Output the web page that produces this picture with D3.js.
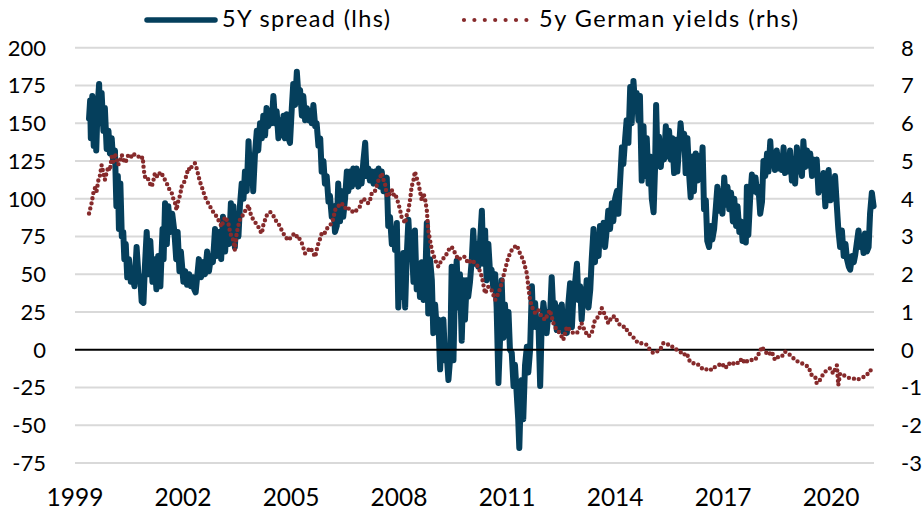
<!DOCTYPE html>
<html><head><meta charset="utf-8">
<script src="https://cdn.jsdelivr.net/npm/d3@7"></script>
<style>
html,body{margin:0;padding:0;background:#fff;}
svg{display:block;font-family:Lato,"Open Sans",sans-serif;}
</style></head>
<body><svg id="c" width="922" height="513"></svg>
<script>
// ---- data ----
const spreadLabel = "5Y spread (lhs)";
const yieldLabel = "5y German yields (rhs)";
const leftTicks = [-75,-50,-25,0,25,50,75,100,125,150,175,200];
const rightTicks = [-3,-2,-1,0,1,2,3,4,5,6,7,8];
const yearTicks = [1999,2002,2005,2008,2011,2014,2017,2020];
// [decimal year, spread bp]
const spreadSeries = [[1999.39,153],[1999.42,165],[1999.44,140],[1999.48,168],[1999.52,135],[1999.56,160],[1999.59,132],[1999.63,162],[1999.67,176],[1999.70,150],[1999.74,170],[1999.79,145],[1999.83,160],[1999.88,133],[1999.93,145],[1999.97,130],[2000.02,140],[2000.06,125],[2000.11,132],[2000.15,95],[2000.19,115],[2000.22,80],[2000.26,110],[2000.30,75],[2000.34,78],[2000.37,60],[2000.41,70],[2000.45,48],[2000.50,60],[2000.55,45],[2000.59,50],[2000.65,42],[2000.71,68],[2000.76,50],[2000.81,48],[2000.85,32],[2000.90,31],[2000.94,55],[2000.99,78],[2001.04,50],[2001.09,72],[2001.15,45],[2001.20,60],[2001.26,40],[2001.31,62],[2001.37,42],[2001.43,80],[2001.46,60],[2001.50,97],[2001.55,70],[2001.59,95],[2001.65,78],[2001.70,90],[2001.76,78],[2001.81,60],[2001.85,78],[2001.90,52],[2001.94,65],[2002.01,45],[2002.06,52],[2002.11,43],[2002.17,50],[2002.22,42],[2002.28,48],[2002.31,40],[2002.35,38],[2002.40,50],[2002.44,60],[2002.50,48],[2002.56,58],[2002.61,50],[2002.67,65],[2002.72,52],[2002.78,62],[2002.83,58],[2002.89,80],[2002.94,62],[2003.00,78],[2003.06,60],[2003.11,88],[2003.17,65],[2003.22,85],[2003.28,70],[2003.33,97],
[2003.35,72],[2003.40,95],[2003.44,68],[2003.49,90],[2003.54,75],[2003.58,95],[2003.63,110],[2003.68,100],[2003.72,118],[2003.77,105],[2003.82,138],[2003.86,115],[2003.91,125],[2003.95,105],[2004.00,130],[2004.05,145],[2004.09,132],[2004.14,150],[2004.19,140],[2004.23,155],[2004.28,142],[2004.32,160],[2004.37,148],[2004.42,158],[2004.46,150],[2004.51,168],[2004.56,150],[2004.60,158],[2004.65,140],[2004.69,152],[2004.74,142],[2004.79,155],[2004.83,140],[2004.88,156],[2004.93,140],[2004.97,137],[2005.02,160],[2005.06,176],[2005.11,162],[2005.16,184],[2005.20,170],[2005.25,172],[2005.30,155],[2005.34,168],[2005.39,152],[2005.44,160],[2005.48,152],[2005.53,158],[2005.57,150],[2005.62,162],[2005.67,148],[2005.71,150],[2005.76,135],[2005.81,140],[2005.85,118],[2005.90,125],[2005.94,110],[2005.99,115],[2006.04,98],[2006.08,102],[2006.13,88],[2006.18,95],[2006.22,78],[2006.27,82],[2006.31,110],[2006.36,85],[2006.41,105],[2006.45,88],[2006.50,100],[2006.55,118],[2006.59,105],[2006.64,118],[2006.69,108],[2006.73,120],[2006.78,110],[2006.82,120],[2006.87,108],[2006.92,118],[2006.96,110],[2007.01,125],[2007.06,137],[2007.10,115],[2007.15,120],[2007.19,112],[2007.24,118],[2007.29,110],[2007.33,118],[2007.38,112],[2007.43,120],[2007.47,108],[2007.52,118],[2007.57,105],[2007.61,108],
[2007.66,114],[2007.70,82],[2007.75,88],[2007.80,70],[2007.84,80],[2007.89,66],[2007.94,84],[2007.98,28],[2008.03,60],[2008.07,35],[2008.12,64],[2008.17,28],[2008.21,60],[2008.26,86],[2008.31,62],[2008.35,72],[2008.40,45],[2008.44,79],[2008.49,40],[2008.54,55],[2008.58,35],[2008.63,58],[2008.68,33],[2008.72,40],[2008.77,84],[2008.81,24],[2008.86,60],[2008.91,46],[2008.95,11],[2009.00,30],[2009.05,12],[2009.09,20],[2009.14,-13],[2009.18,10],[2009.23,20],[2009.28,-7],[2009.32,-2],[2009.37,-20],[2009.42,-5],[2009.46,55],[2009.51,-7],[2009.55,40],[2009.60,59],[2009.65,28],[2009.69,50],[2009.74,6],[2009.79,46],[2009.83,20],[2009.88,46],[2009.92,35],[2009.97,45],[2010.02,60],[2010.06,79],[2010.11,57],[2010.16,70],[2010.20,55],[2010.25,72],[2010.30,92],[2010.34,57],[2010.39,79],[2010.43,46],[2010.48,70],[2010.53,50],[2010.57,53],[2010.62,40],[2010.67,50],[2010.71,28],[2010.76,-22],[2010.81,10],[2010.85,46],[2010.90,8],[2010.94,30],[2010.99,15],[2011.04,25],[2011.08,0],[2011.13,-2],[2011.18,-24],[2011.22,-10],[2011.27,-30],[2011.31,-46],[2011.34,-65],[2011.37,-40],[2011.41,-20],[2011.45,-46],[2011.50,-10],[2011.55,2],[2011.59,-15],[2011.64,0],[2011.69,42],[2011.73,15],[2011.78,31],[2011.82,15],[2011.87,20],[2011.92,-24],[2011.96,15],[2012.01,31],[2012.06,20],
[2012.10,11],[2012.15,25],[2012.19,20],[2012.24,48],[2012.29,22],[2012.33,31],[2012.38,13],[2012.43,28],[2012.47,15],[2012.52,30],[2012.56,12],[2012.61,25],[2012.66,11],[2012.70,30],[2012.75,44],[2012.80,15],[2012.84,35],[2012.89,45],[2012.94,57],[2012.98,33],[2013.03,42],[2013.07,20],[2013.12,38],[2013.17,30],[2013.21,46],[2013.26,28],[2013.31,40],[2013.35,60],[2013.40,80],[2013.44,58],[2013.49,75],[2013.54,62],[2013.58,82],[2013.63,70],[2013.68,84],[2013.72,68],[2013.77,80],[2013.81,92],[2013.86,80],[2013.91,97],[2013.95,85],[2014.00,100],[2014.05,105],[2014.09,90],[2014.14,112],
[2014.19,134],[2014.23,123],[2014.28,140],[2014.32,152],[2014.37,137],[2014.42,174],[2014.46,150],[2014.51,178],[2014.56,160],[2014.60,170],[2014.65,152],[2014.69,168],[2014.74,112],[2014.79,148],[2014.83,115],[2014.88,140],[2014.93,110],[2014.97,128],[2015.02,100],[2015.07,91],[2015.11,120],[2015.14,162],[2015.18,125],[2015.22,141],[2015.27,121],[2015.31,135],[2015.36,126],[2015.41,148],[2015.45,128],[2015.50,145],[2015.55,126],[2015.59,140],[2015.64,117],[2015.69,139],[2015.73,118],[2015.78,135],[2015.82,150],[2015.87,134],[2015.92,143],[2015.96,117],[2016.01,140],[2016.06,115],[2016.10,101],[2016.15,128],[2016.19,105],[2016.24,130],[2016.29,112],[2016.33,128],[2016.38,115],[2016.43,134],[2016.47,93],
[2016.52,99],[2016.56,72],[2016.61,68],[2016.66,82],[2016.70,73],[2016.75,80],[2016.80,95],[2016.84,108],[2016.89,92],[2016.93,105],[2016.98,90],[2017.03,114],[2017.08,96],[2017.12,108],[2017.17,93],[2017.22,104],[2017.27,85],[2017.31,100],[2017.36,82],[2017.40,95],[2017.45,78],[2017.50,85],[2017.54,72],[2017.59,80],[2017.63,71],
[2017.66,108],[2017.70,76],[2017.75,100],[2017.80,116],[2017.85,105],[2017.90,114],[2017.94,104],[2017.98,108],[2018.03,90],[2018.08,98],[2018.12,125],[2018.17,115],[2018.22,130],[2018.26,118],[2018.31,138],[2018.35,122],[2018.40,130],[2018.44,119],[2018.49,132],[2018.54,120],[2018.58,128],[2018.63,119],[2018.68,134],[2018.72,117],[2018.77,128],[2018.82,118],[2018.86,132],[2018.91,112],[2018.95,124],[2019.00,110],[2019.05,134],[2019.09,118],[2019.14,128],[2019.19,115],[2019.23,138],[2019.28,121],[2019.33,132],[2019.37,122],[2019.42,130],[2019.47,115],[2019.51,126],[2019.56,118],[2019.60,126],[2019.65,104],[2019.70,115],[2019.74,106],[2019.79,117],[2019.84,95],[2019.88,110],[2019.93,119],[2019.98,99],[2020.02,112],[2020.06,100],[2020.11,115],[2020.16,95],[2020.20,80],[2020.25,68],[2020.30,79],[2020.35,62],[2020.40,70],[2020.44,60],[2020.49,55],[2020.53,53],[2020.58,62],[2020.63,58],[2020.67,63],[2020.71,70],[2020.76,79],[2020.81,68],[2020.85,75],[2020.90,64],[2020.94,77],[2020.99,65],[2021.04,68],[2021.08,90],[2021.13,104],[2021.18,95]];
// [decimal year, yield %]
const yieldSeries = [[1999.39,3.61],[1999.46,3.88],[1999.51,4.15],[1999.56,4.3],[1999.60,4.2],[1999.65,4.49],[1999.69,4.6],[1999.74,4.89],[1999.79,4.68],[1999.83,4.5],[1999.88,4.7],[1999.93,4.85],[1999.97,4.75],[2000.02,5.11],[2000.06,4.98],[2000.11,5.2],[2000.16,5.05],[2000.20,4.9],[2000.25,5.0],[2000.30,5.16],[2000.34,5.05],[2000.39,4.95],[2000.44,5.05],[2000.48,5.16],[2000.55,5.1],[2000.62,5.2],[2000.69,5.12],[2000.76,5.12],[2000.82,5.05],[2000.88,5.1],[2000.91,4.76],[2000.94,4.58],[2000.99,4.6],[2001.04,4.5],[2001.08,4.4],[2001.13,4.32],[2001.18,4.5],[2001.22,4.68],[2001.27,4.6],[2001.31,4.58],[2001.36,4.7],[2001.41,4.68],[2001.45,4.55],[2001.50,4.5],[2001.55,4.4],[2001.59,4.32],[2001.64,4.2],[2001.69,4.14],[2001.73,4.0],[2001.78,3.88],[2001.82,3.7],[2001.87,3.95],[2001.92,4.1],[2001.96,4.32],[2002.01,4.4],[2002.06,4.5],[2002.10,4.65],[2002.15,4.81],[2002.19,4.75],[2002.24,4.85],[2002.29,4.9],[2002.33,4.94],[2002.38,4.8],[2002.43,4.6],[2002.47,4.45],[2002.52,4.32],[2002.56,4.2],[2002.61,4.05],[2002.66,3.95],[2002.70,3.88],[2002.75,3.8],[2002.80,3.7],[2002.84,3.65],[2002.89,3.61],[2002.94,3.5],[2002.98,3.44],[2003.03,3.35],[2003.07,3.26],[2003.12,3.4],[2003.17,3.52],[2003.21,3.45],[2003.26,3.35],[2003.31,3.1],[2003.35,2.99],[2003.40,2.9],[2003.44,2.64],[2003.49,3.08],[2003.54,3.3],[2003.58,3.44],[2003.63,3.5],[2003.68,3.61],[2003.74,3.7],[2003.82,3.83],[2003.86,3.65],[2003.91,3.52],[2003.95,3.45],[2004.00,3.39],[2004.05,3.3],[2004.09,3.26],[2004.14,3.15],[2004.19,3.08],[2004.23,3.3],[2004.28,3.44],[2004.32,3.55],[2004.37,3.61],[2004.42,3.65],[2004.46,3.61],[2004.51,3.55],[2004.56,3.44],[2004.60,3.4],[2004.65,3.35],[2004.69,3.25],[2004.74,3.17],[2004.79,3.08],[2004.83,2.99],[2004.88,2.95],[2004.93,2.9],[2004.97,2.95],[2005.02,2.99],[2005.06,3.05],[2005.11,3.08],[2005.16,3.0],[2005.20,3.02],[2005.25,2.9],[2005.30,2.82],[2005.34,2.7],[2005.39,2.55],[2005.44,2.6],[2005.48,2.64],[2005.53,2.7],[2005.57,2.64],[2005.62,2.55],[2005.67,2.46],[2005.71,2.64],[2005.76,2.82],[2005.81,2.95],[2005.85,3.08],[2005.90,3.05],[2005.94,3.1],[2005.99,3.2],[2006.04,3.26],[2006.08,3.3],[2006.13,3.35],[2006.18,3.5],[2006.22,3.7],[2006.27,3.75],[2006.31,3.8],[2006.36,3.85],[2006.41,3.88],[2006.45,3.8],[2006.50,3.75],[2006.55,3.8],[2006.59,3.75],[2006.64,3.7],[2006.69,3.65],[2006.73,3.68],[2006.78,3.65],[2006.82,3.7],[2006.87,3.75],[2006.92,3.8],[2006.96,3.96],[2007.01,4.0],[2007.06,3.96],[2007.10,3.9],[2007.15,3.88],[2007.19,3.95],[2007.24,4.14],[2007.29,4.15],[2007.33,4.2],[2007.38,4.35],[2007.43,4.49],[2007.47,4.55],[2007.52,4.68],[2007.57,4.5],[2007.61,4.4],[2007.66,4.1],[2007.70,4.05],[2007.75,4.15],[2007.80,4.23],[2007.84,4.1],[2007.89,4.14],[2007.94,4.0],[2007.98,3.88],[2008.03,3.7],[2008.07,3.52],[2008.12,3.45],[2008.17,3.35],[2008.21,3.55],[2008.26,3.7],[2008.31,4.0],[2008.35,4.32],[2008.40,4.49],[2008.44,4.72],[2008.49,4.55],[2008.54,4.4],[2008.58,4.2],[2008.63,3.96],[2008.68,4.14],[2008.72,4.0],[2008.77,3.7],[2008.81,3.17],[2008.86,2.9],[2008.91,2.64],[2009.00,2.38],[2009.09,2.2],[2009.18,2.38],[2009.28,2.46],[2009.37,2.64],[2009.46,2.73],[2009.56,2.55],[2009.65,2.38],[2009.74,2.46],[2009.83,2.46],[2009.92,2.29],[2010.02,2.38],[2010.11,2.29],[2010.20,2.2],[2010.30,1.93],[2010.39,1.49],[2010.48,1.67],[2010.57,1.58],[2010.67,1.32],[2010.76,1.49],[2010.85,1.76],[2010.94,2.11],[2011.04,2.46],[2011.13,2.64],[2011.22,2.73],[2011.27,2.77],[2011.36,2.55],[2011.45,2.38],[2011.55,2.02],[2011.59,1.67],[2011.64,1.32],[2011.69,1.14],[2011.78,0.97],[2011.87,1.05],[2011.96,0.88],[2012.06,0.79],[2012.10,0.88],[2012.19,1.05],[2012.29,0.7],[2012.38,0.52],[2012.47,0.44],[2012.56,0.26],[2012.66,0.61],[2012.75,0.52],[2012.84,0.44],[2012.94,0.44],[2013.03,0.61],[2013.07,0.7],[2013.17,0.48],[2013.26,0.35],[2013.35,0.44],[2013.44,0.79],[2013.54,0.88],[2013.63,1.1],[2013.72,0.92],[2013.81,0.7],[2013.91,0.88],[2014.00,0.88],[2014.09,0.7],[2014.19,0.61],[2014.28,0.61],[2014.37,0.44],[2014.46,0.39],[2014.56,0.26],[2014.65,0.17],[2014.79,0.17],[2014.88,0.13],[2014.97,0.0],[2015.06,-0.09],[2015.16,-0.05],[2015.25,0.0],[2015.34,0.17],[2015.44,0.17],[2015.53,0.08],[2015.62,0.08],[2015.71,0.0],[2015.81,-0.05],[2015.90,-0.14],[2015.99,-0.09],[2016.08,-0.32],[2016.18,-0.36],[2016.27,-0.36],[2016.41,-0.49],[2016.50,-0.54],[2016.59,-0.49],[2016.69,-0.54],[2016.78,-0.45],[2016.87,-0.41],[2016.96,-0.36],[2017.06,-0.49],[2017.15,-0.36],[2017.24,-0.41],[2017.33,-0.32],[2017.43,-0.36],[2017.52,-0.23],[2017.61,-0.36],[2017.70,-0.27],[2017.80,-0.27],[2017.89,-0.27],[2017.94,-0.18],[2018.03,-0.05],[2018.07,0.08],[2018.17,-0.05],[2018.26,-0.14],[2018.35,-0.05],[2018.44,-0.27],[2018.54,-0.18],[2018.63,-0.18],[2018.72,-0.05],[2018.81,-0.1],[2018.91,-0.18],[2019.00,-0.27],[2019.09,-0.32],[2019.19,-0.36],[2019.28,-0.41],[2019.37,-0.45],[2019.46,-0.67],[2019.56,-0.72],[2019.60,-0.89],[2019.69,-0.8],[2019.79,-0.63],[2019.88,-0.54],[2019.97,-0.49],[2020.06,-0.63],[2020.16,-0.41],[2020.20,-0.94],[2020.25,-0.63],[2020.34,-0.67],[2020.44,-0.72],[2020.53,-0.76],[2020.62,-0.76],[2020.71,-0.8],[2020.81,-0.76],[2020.90,-0.72],[2020.99,-0.67],[2021.08,-0.54],[2021.18,-0.58]];

// ---- drawing ----
const BLUE = "#053f5c", RED = "#862a2b";
const toDate = y => { const yr = Math.floor(y); const s = Date.UTC(yr,0,1), e = Date.UTC(yr+1,0,1); return new Date(s + (y-yr)*(e-s)); };
const svg = d3.select("#c");
const x = d3.scaleUtc().domain([toDate(1999), toDate(2021.19)]).range([75, 874]);
const yL = d3.scaleLinear().domain([-75, 200]).range([463, 47.7]);
const yR = d3.scaleLinear().domain([-3, 8]).range([463, 47.7]);

// gridlines
svg.append("g").selectAll("line").data(leftTicks.filter(d=>d!==0)).join("line")
  .attr("x1", 75).attr("x2", 874).attr("y1", d=>yL(d)).attr("y2", d=>yL(d))
  .attr("stroke", "#d9d9d9").attr("stroke-width", 2);

// left axis labels
svg.append("g").selectAll("text").data(leftTicks).join("text")
  .attr("x", 46).attr("y", d=>yL(d)).attr("dy", "0.36em").attr("text-anchor","end")
  .attr("font-size", 22).attr("fill","#000").text(d=>d);
// right axis labels
svg.append("g").selectAll("text").data(rightTicks).join("text")
  .attr("x", 901).attr("y", d=>yR(d)).attr("dy", "0.36em").attr("text-anchor","start")
  .attr("font-size", 22).attr("fill","#000").text(d=>d);
// x axis labels
svg.append("g").selectAll("text").data(yearTicks).join("text")
  .attr("x", d=>x(toDate(d))).attr("y", 506).attr("text-anchor","middle")
  .attr("font-size", 24.5).attr("fill","#000").text(d=>d);

// spread line
const lineL = d3.line().x(d=>x(toDate(d[0]))).y(d=>yL(d[1]));
svg.append("path").datum(spreadSeries).attr("d", lineL)
  .attr("fill","none").attr("stroke", BLUE).attr("stroke-width", 6)
  .attr("stroke-linejoin","round").attr("stroke-linecap","round");

// zero line
svg.append("line").attr("x1",75).attr("x2",874).attr("y1",yL(0)).attr("y2",yL(0))
  .attr("stroke","#000").attr("stroke-width",2.2);

// yield dotted line
const lineR = d3.line().x(d=>x(toDate(d[0]))).y(d=>yR(d[1]));
svg.append("path").datum(yieldSeries).attr("d", lineR)
  .attr("fill","none").attr("stroke", RED).attr("stroke-width", 4.4)
  .attr("stroke-linecap","round").attr("stroke-dasharray","0 5.2");

// legend
const lg = svg.append("g");
lg.append("line").attr("x1",147).attr("x2",215).attr("y1",20).attr("y2",20)
  .attr("stroke",BLUE).attr("stroke-width",5.5).attr("stroke-linecap","round");
lg.append("text").attr("x",222).attr("y",27).attr("font-size",23.5)
  .attr("textLength",168).attr("lengthAdjust","spacing").text(spreadLabel);
lg.append("line").attr("x1",464).attr("x2",527).attr("y1",20).attr("y2",20)
  .attr("stroke",RED).attr("stroke-width",4.2).attr("stroke-linecap","round").attr("stroke-dasharray","0 10.4");
lg.append("text").attr("x",539).attr("y",27).attr("font-size",23.5)
  .attr("textLength",259).attr("lengthAdjust","spacing").text(yieldLabel);
</script></body></html>
